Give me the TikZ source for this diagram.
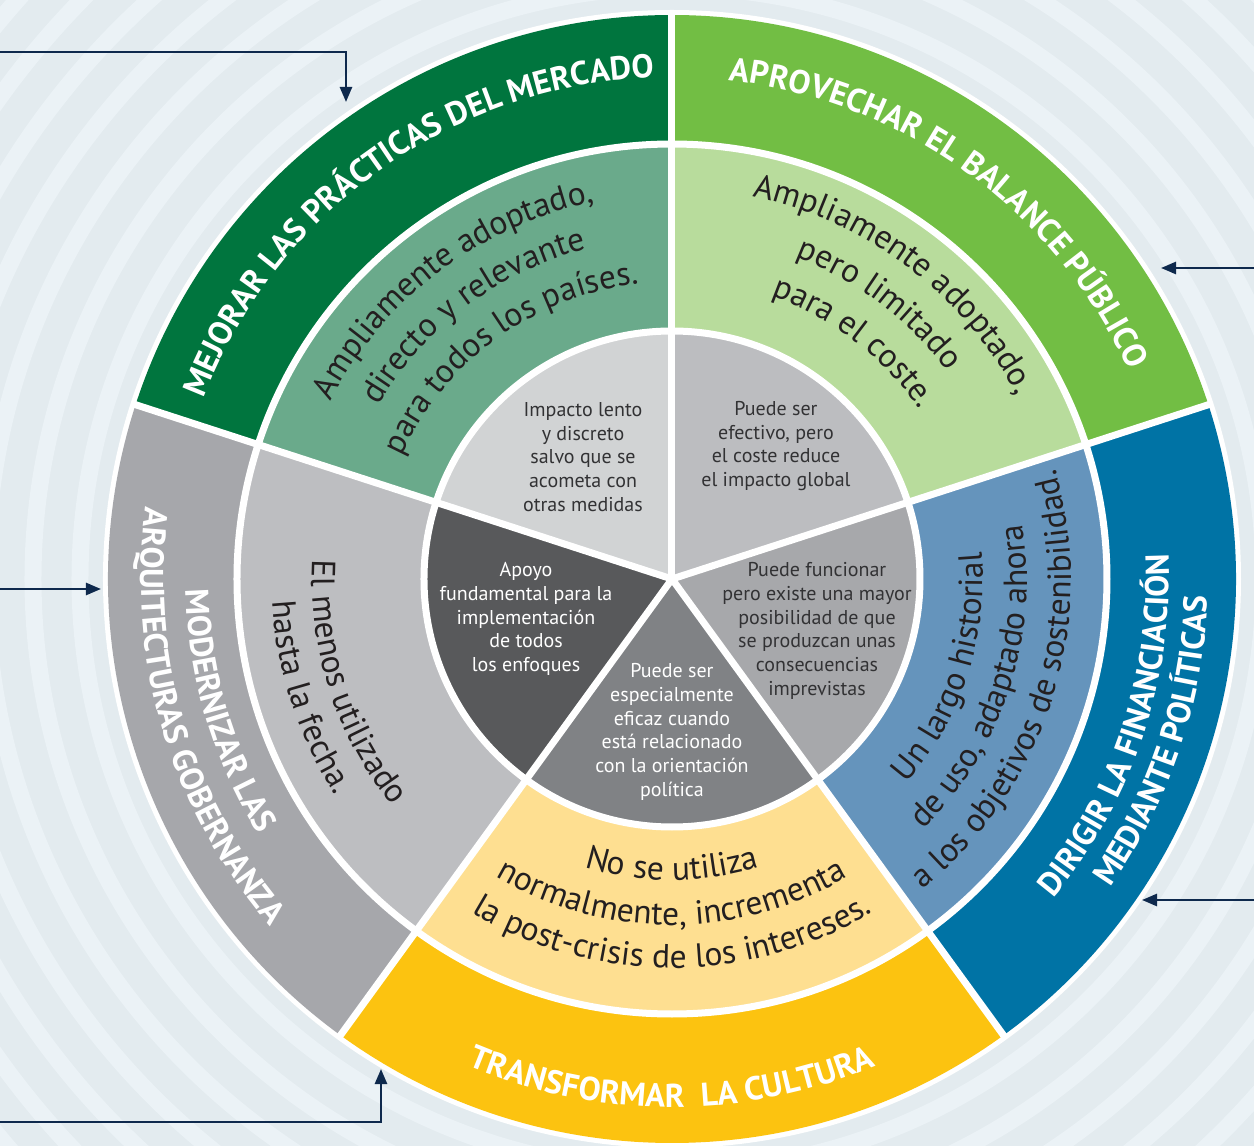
\documentclass[tikz,border=0pt]{standalone}
\usepackage{fontspec}
\setmainfont{PT Sans}
\usetikzlibrary{decorations.text,arrows.meta}
\definecolor{bgdark}{RGB}{227,235,239}
\definecolor{bglight}{RGB}{235,242,246}
\definecolor{oA}{RGB}{0,117,62}
\definecolor{oB}{RGB}{114,190,68}
\definecolor{oC}{RGB}{0,115,165}
\definecolor{oD}{RGB}{252,195,16}
\definecolor{oE}{RGB}{166,167,171}
\definecolor{mA}{RGB}{106,170,139}
\definecolor{mB}{RGB}{184,220,156}
\definecolor{mC}{RGB}{101,148,188}
\definecolor{mD}{RGB}{254,223,145}
\definecolor{mE}{RGB}{189,190,193}
\definecolor{iA}{RGB}{209,211,212}
\definecolor{iB}{RGB}{188,189,192}
\definecolor{iC}{RGB}{167,168,171}
\definecolor{iD}{RGB}{128,130,133}
\definecolor{iE}{RGB}{88,89,91}
\definecolor{arrowc}{RGB}{14,41,77}
\definecolor{midtxt}{RGB}{35,31,32}
\definecolor{intxt}{RGB}{50,50,52}
\newcommand\midfmt{\fontsize{33.5}{40}\selectfont\color{midtxt}}
\newcommand\outfmt{\bfseries\fontsize{33}{40}\selectfont\color{white}}
\newcommand\ringseg[4]{\fill[#1] (#2:#4) arc[start angle=#2, delta angle=72, radius=#4] -- ({#2+72}:#3) arc[start angle={#2+72}, delta angle=-72, radius=#3] -- cycle;}
\newcommand\pieseg[2]{\fill[#1] (0pt,0pt) -- (#2:248pt) arc[start angle=#2, delta angle=72, radius=248pt] -- cycle;}
\newcommand\cwtext[4]{\path[decorate, decoration={text along path, text align=center, text={|#3|#4}}] ({#1+70}:#2) arc[start angle={#1+70}, end angle={#1-70}, radius=#2];}
\newcommand\ccwtext[4]{\path[decorate, decoration={text along path, text align=center, text={|#3|#4}}] ({#1-70}:#2) arc[start angle={#1-70}, end angle={#1+70}, radius=#2];}
\tikzset{
  innertext/.style={align=center, font=\fontsize{20}{23.7}\selectfont, inner sep=0pt},
  arr/.style={draw=arrowc, line width=2.5pt, -{Triangle[length=15pt,width=12pt]}},
  sep/.style={white, line width=7pt}
}
\begin{document}
\begin{tikzpicture}
\useasboundingbox (-672pt,-567pt) rectangle (582pt,579pt);
\fill[bgdark] (-672pt,-567pt) rectangle (582pt,579pt);
\begin{scope}
\clip (-672pt,-567pt) rectangle (582pt,579pt);
\foreach \k in {0,...,7}{
  \draw[bglight, line width=17pt] (0pt,0pt) circle[radius={592pt+47pt*\k}];
}
\end{scope}
\fill[white] (0pt,0pt) circle[radius=569pt];
% outer ring
\ringseg{oA}{90}{435pt}{564pt}
\ringseg{oB}{18}{435pt}{564pt}
\ringseg{oC}{-54}{435pt}{564pt}
\ringseg{oD}{-126}{435pt}{564pt}
\ringseg{oE}{162}{435pt}{564pt}
% middle ring
\ringseg{mA}{90}{248pt}{435pt}
\ringseg{mB}{18}{248pt}{435pt}
\ringseg{mC}{-54}{248pt}{435pt}
\ringseg{mD}{-126}{248pt}{435pt}
\ringseg{mE}{162}{248pt}{435pt}
% inner pie
\pieseg{iA}{90}
\pieseg{iB}{18}
\pieseg{iC}{-54}
\pieseg{iD}{-126}
\pieseg{iE}{162}
% separators
\draw[sep] (0pt,0pt) circle[radius=435pt];
\draw[sep] (0pt,0pt) circle[radius=248pt];
\foreach \a in {90,18,-54,-126,162}{\draw[sep] (0pt,0pt) -- (\a:566pt);}
% outer texts
\cwtext{125.5}{502pt}{\outfmt}{MEJORAR LAS PRÁCTICAS DEL MERCADO}
\cwtext{54}{502pt}{\outfmt}{APROVECHAR EL BALANCE PÚBLICO}
\ccwtext{-18.5}{497pt}{\outfmt}{DIRIGIR LA FINANCIACIÓN}
\ccwtext{-18.5}{536pt}{\outfmt}{MEDIANTE POLÍTICAS}
\ccwtext{-90}{528pt}{\outfmt}{TRANSFORMAR{\ }{\ }LA CULTURA}
\ccwtext{196.5}{486pt}{\outfmt}{MODERNIZAR LAS}
\ccwtext{196.5}{531pt}{\outfmt}{ARQUITECTURAS GOBERNANZA}
% middle texts
\cwtext{127}{385pt}{\midfmt}{Ampliamente adoptado,}
\cwtext{127}{341pt}{\midfmt}{directo y relevante}
\cwtext{126}{297pt}{\midfmt}{para todos los países.}
\cwtext{53}{391pt}{\midfmt}{Ampliamente adoptado,}
\cwtext{53}{345pt}{\midfmt}{pero limitado}
\cwtext{52.5}{300pt}{\midfmt}{para el coste.}
\ccwtext{-18}{311pt}{\midfmt}{Un largo historial}
\ccwtext{-18}{355pt}{\midfmt}{de uso, adaptado ahora}
\ccwtext{-17.5}{399pt}{\midfmt}{a los objetivos de sostenibilidad.}
\ccwtext{-90}{301pt}{\midfmt}{No se utiliza}
\ccwtext{-90}{346pt}{\midfmt}{normalmente, incrementa}
\ccwtext{-90}{389pt}{\midfmt}{la post-crisis de los intereses.}
\ccwtext{198}{360pt}{\midfmt}{El menos utilizado}
\ccwtext{198}{400pt}{\midfmt}{hasta la fecha.}
% inner texts
\node[innertext, text=intxt] (tA) at (-89pt,122pt) {Impacto lento\\y discreto\\salvo que se\\acometa con\\otras medidas};
\node[innertext, text=intxt] (tB) at (104pt,133pt) {Puede ser\\efectivo, pero\\el coste reduce\\el impacto global};
\node[innertext, text=intxt] (tC) at (145pt,-52pt) {Puede funcionar\\pero existe una mayor\\posibilidad de que\\se produzcan unas\\consecuencias\\imprevistas};
\node[innertext, text=white] (tD) at (0pt,-153pt) {Puede ser\\especialmente\\eficaz cuando\\está relacionado\\con la orientación\\política};
\node[innertext, text=white] (tE) at (-146pt,-40pt) {Apoyo\\fundamental para la\\implementación\\de todos\\los enfoques};
% arrows
\coordinate (a1s) at (-672pt,527pt); \coordinate (a1t) at (-326pt,477pt);
\coordinate (a2s) at (582pt,311pt);  \coordinate (a2t) at (489pt,311pt);
\coordinate (a3s) at (-672pt,-10pt); \coordinate (a3t) at (-571pt,-10pt);
\coordinate (a4s) at (582pt,-321pt); \coordinate (a4t) at (470pt,-321pt);
\coordinate (a5s) at (-672pt,-543pt); \coordinate (a5t) at (-291pt,-490pt);
\draw[arr] (a1s) -| (a1t);
\draw[arr] (a2s) -- (a2t);
\draw[arr] (a3s) -- (a3t);
\draw[arr] (a4s) -- (a4t);
\draw[arr] (a5s) -| (a5t);
\end{tikzpicture}
\end{document}
